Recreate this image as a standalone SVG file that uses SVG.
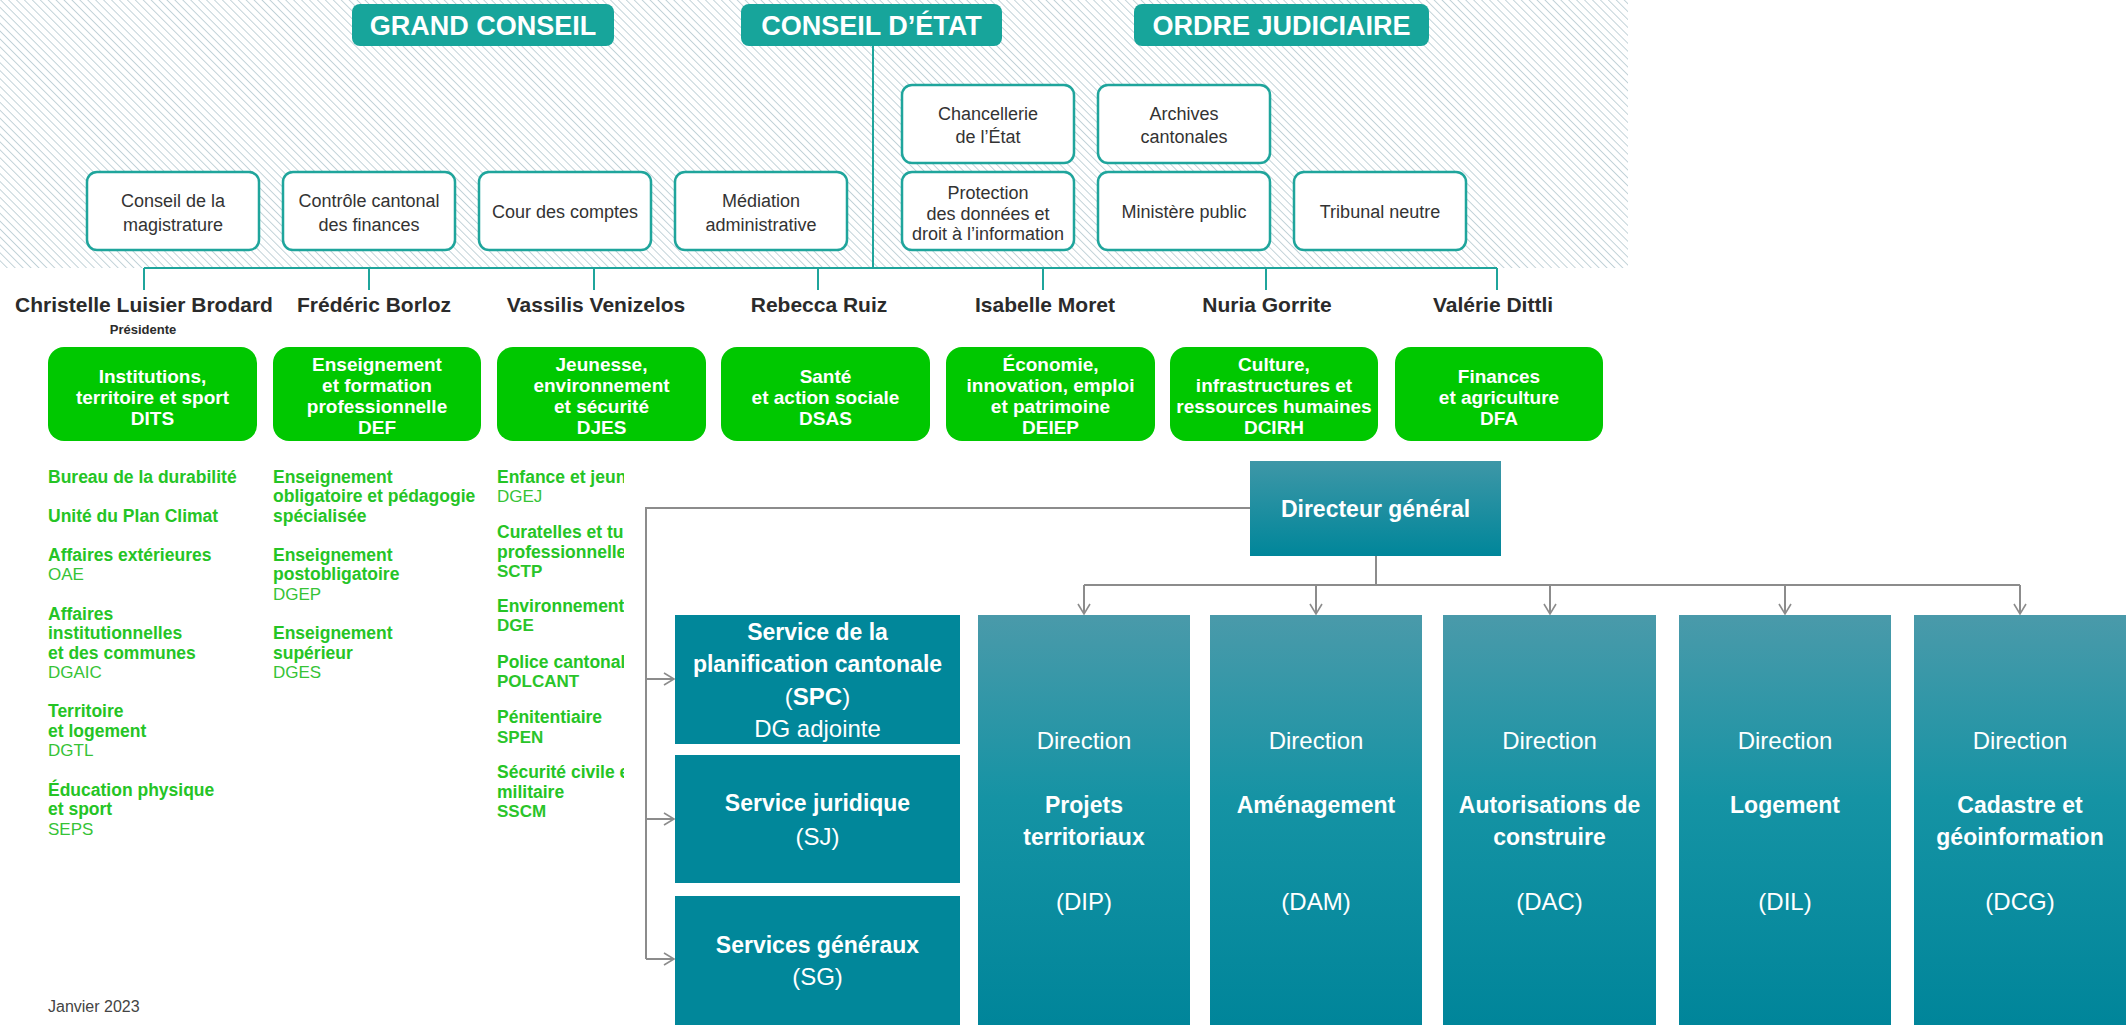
<svg xmlns="http://www.w3.org/2000/svg" width="2126" height="1025" viewBox="0 0 2126 1025">
<defs>
<style>
text{font-family:"Liberation Sans",Arial,sans-serif}
.hdr{fill:#17a59b}
.hdrt{font-size:27px;font-weight:bold;fill:#fff;text-anchor:middle}
.sb{fill:#fff;stroke:#1fa59c;stroke-width:2.5}
.sbt{font-size:18px;fill:#333;text-anchor:middle}
.name{font-size:21px;font-weight:bold;fill:#2b2b2b;text-anchor:middle}
.pres{font-size:13px;font-weight:bold;fill:#2b2b2b;text-anchor:middle}
.gb{fill:#00c800}
.gbt{font-size:19px;font-weight:bold;fill:#fff;text-anchor:middle}
.li{font-size:17.5px;font-weight:bold;fill:#25c425}
.ab{font-size:17px;fill:#36c336}
.abb{font-size:17px;font-weight:bold;fill:#2ac42a}
.teal{stroke:#1fa59c;stroke-width:2;fill:none}
.conn{stroke:#8c8c8c;stroke-width:2;fill:none}
.arr{stroke:#8c8c8c;stroke-width:2;fill:none;marker-end:url(#chev)}
.solid{fill:#01879a}
.dir{fill:url(#gDir)}
.bt{font-size:23px;font-weight:bold;fill:#fff;text-anchor:middle}
.rt{font-size:24px;fill:#fff;text-anchor:middle}
.foot{font-size:16px;fill:#444}
</style>
<pattern id="hatch" width="5.6" height="5.6" patternUnits="userSpaceOnUse" patternTransform="rotate(-45)">
<line x1="0" y1="0" x2="0" y2="5.6" stroke="#b6c9d1" stroke-width="1.6"/>
</pattern>
<linearGradient id="gDir" x1="0" y1="0" x2="0" y2="1">
<stop offset="0" stop-color="#4a9aaa"/><stop offset="0.45" stop-color="#1593a4"/><stop offset="1" stop-color="#00859a"/>
</linearGradient>
<linearGradient id="gDG" x1="0" y1="0" x2="0" y2="1">
<stop offset="0" stop-color="#3e97a7"/><stop offset="1" stop-color="#00869a"/>
</linearGradient>
<marker id="chev" markerUnits="userSpaceOnUse" markerWidth="14" markerHeight="16" refX="11" refY="7" orient="auto">
<path d="M1,1 L11,7 L1,13" fill="none" stroke="#8c8c8c" stroke-width="1.6"/>
</marker>
<clipPath id="c3"><rect x="0" y="450" width="624" height="400"/></clipPath>
</defs>

<rect width="2126" height="1025" fill="#fff"/>
<rect id="hatch-area" x="0" y="0" width="1628" height="268" fill="url(#hatch)"/>

<g id="connectors">
<path class="teal" d="M873,46 V268"/>
<path class="teal" d="M144,268 H1497"/>
<path class="teal" d="M144,268 V290 M369,268 V290 M594,268 V290 M818,268 V290 M1043,268 V290 M1266,268 V290 M1497,268 V290"/>
<path class="conn" d="M1250,508 H646 V959"/>
<path class="arr" d="M646,679 H674"/>
<path class="arr" d="M646,819 H674"/>
<path class="arr" d="M646,959 H674"/>
<path class="conn" d="M1376,556 V585 M1084,585 H2020"/>
<path class="arr" d="M1084,585 V614"/>
<path class="arr" d="M1316,585 V614"/>
<path class="arr" d="M1550,585 V614"/>
<path class="arr" d="M1785,585 V614"/>
<path class="arr" d="M2020,585 V614"/>
</g>

<g id="grand-conseil"><rect class="hdr" x="352" y="4" width="262" height="42" rx="8"/><text class="hdrt" x="483" y="35">GRAND CONSEIL</text></g>
<g id="conseil-etat"><rect class="hdr" x="741" y="4" width="261" height="42" rx="8"/><text class="hdrt" x="871.5" y="35">CONSEIL D’ÉTAT</text></g>
<g id="ordre-judiciaire"><rect class="hdr" x="1134" y="4" width="295" height="42" rx="8"/><text class="hdrt" x="1281.5" y="35">ORDRE JUDICIAIRE</text></g>

<g id="conseil-magistrature"><rect class="sb" x="87" y="172" width="172" height="78" rx="10"/><text class="sbt" x="173" y="206.5">Conseil de la</text><text class="sbt" x="173" y="230.5">magistrature</text></g>
<g id="controle-cantonal"><rect class="sb" x="283" y="172" width="172" height="78" rx="10"/><text class="sbt" x="369" y="206.5">Contrôle cantonal</text><text class="sbt" x="369" y="230.5">des finances</text></g>
<g id="cour-comptes"><rect class="sb" x="479" y="172" width="172" height="78" rx="10"/><text class="sbt" x="565" y="218">Cour des comptes</text></g>
<g id="mediation"><rect class="sb" x="675" y="172" width="172" height="78" rx="10"/><text class="sbt" x="761" y="206.5">Médiation</text><text class="sbt" x="761" y="230.5">administrative</text></g>
<g id="chancellerie"><rect class="sb" x="902" y="85" width="172" height="78" rx="10"/><text class="sbt" x="988" y="119.5">Chancellerie</text><text class="sbt" x="988" y="143">de l’État</text></g>
<g id="archives"><rect class="sb" x="1098" y="85" width="172" height="78" rx="10"/><text class="sbt" x="1184" y="119.5">Archives</text><text class="sbt" x="1184" y="143">cantonales</text></g>
<g id="protection-donnees"><rect class="sb" x="902" y="172" width="172" height="78" rx="10"/><text class="sbt" x="988" y="198.5">Protection</text><text class="sbt" x="988" y="219.5">des données et</text><text class="sbt" x="988" y="240">droit à l’information</text></g>
<g id="ministere-public"><rect class="sb" x="1098" y="172" width="172" height="78" rx="10"/><text class="sbt" x="1184" y="218">Ministère public</text></g>
<g id="tribunal-neutre"><rect class="sb" x="1294" y="172" width="172" height="78" rx="10"/><text class="sbt" x="1380" y="218">Tribunal neutre</text></g>

<g id="name-luisier"><text class="name" x="144" y="312">Christelle Luisier Brodard</text><text class="pres" x="143" y="334">Présidente</text></g>
<g id="name-borloz"><text class="name" x="374" y="312">Frédéric Borloz</text></g>
<g id="name-venizelos"><text class="name" x="596" y="312">Vassilis Venizelos</text></g>
<g id="name-ruiz"><text class="name" x="819" y="312">Rebecca Ruiz</text></g>
<g id="name-moret"><text class="name" x="1045" y="312">Isabelle Moret</text></g>
<g id="name-gorrite"><text class="name" x="1267" y="312">Nuria Gorrite</text></g>
<g id="name-dittli"><text class="name" x="1493" y="312">Valérie Dittli</text></g>

<g id="dits"><rect class="gb" x="48" y="347" width="209" height="94" rx="16"/><text class="gbt" x="152.5" y="383">Institutions,</text><text class="gbt" x="152.5" y="404">territoire et sport</text><text class="gbt" x="152.5" y="424.5">DITS</text></g>
<g id="def"><rect class="gb" x="273" y="347" width="208" height="94" rx="16"/><text class="gbt" x="377" y="371">Enseignement</text><text class="gbt" x="377" y="392">et formation</text><text class="gbt" x="377" y="413">professionnelle</text><text class="gbt" x="377" y="433.5">DEF</text></g>
<g id="djes"><rect class="gb" x="497" y="347" width="209" height="94" rx="16"/><text class="gbt" x="601.5" y="371">Jeunesse,</text><text class="gbt" x="601.5" y="392">environnement</text><text class="gbt" x="601.5" y="413">et sécurité</text><text class="gbt" x="601.5" y="433.5">DJES</text></g>
<g id="dsas"><rect class="gb" x="721" y="347" width="209" height="94" rx="16"/><text class="gbt" x="825.5" y="383">Santé</text><text class="gbt" x="825.5" y="404">et action sociale</text><text class="gbt" x="825.5" y="424.5">DSAS</text></g>
<g id="deiep"><rect class="gb" x="946" y="347" width="209" height="94" rx="16"/><text class="gbt" x="1050.5" y="371">Économie,</text><text class="gbt" x="1050.5" y="392">innovation, emploi</text><text class="gbt" x="1050.5" y="413">et patrimoine</text><text class="gbt" x="1050.5" y="433.5">DEIEP</text></g>
<g id="dcirh"><rect class="gb" x="1170" y="347" width="208" height="94" rx="16"/><text class="gbt" x="1274" y="371">Culture,</text><text class="gbt" x="1274" y="392">infrastructures et</text><text class="gbt" x="1274" y="413">ressources humaines</text><text class="gbt" x="1274" y="433.5">DCIRH</text></g>
<g id="dfa"><rect class="gb" x="1395" y="347" width="208" height="94" rx="16"/><text class="gbt" x="1499" y="383">Finances</text><text class="gbt" x="1499" y="404">et agriculture</text><text class="gbt" x="1499" y="424.5">DFA</text></g>

<g id="list-dits">
<text class="li" x="48" y="482.5">Bureau de la durabilité</text>
<text class="li" x="48" y="521.5">Unité du Plan Climat</text>
<text class="li" x="48" y="560.5">Affaires extérieures</text><text class="ab" x="48" y="580">OAE</text>
<text class="li" x="48" y="619.5">Affaires</text><text class="li" x="48" y="639">institutionnelles</text><text class="li" x="48" y="658.5">et des communes</text><text class="ab" x="48" y="678">DGAIC</text>
<text class="li" x="48" y="717">Territoire</text><text class="li" x="48" y="736.5">et logement</text><text class="ab" x="48" y="756">DGTL</text>
<text class="li" x="48" y="795.5">Éducation physique</text><text class="li" x="48" y="815">et sport</text><text class="ab" x="48" y="834.5">SEPS</text>
</g>
<g id="list-def">
<text class="li" x="273" y="482.5">Enseignement</text><text class="li" x="273" y="502">obligatoire et pédagogie</text><text class="li" x="273" y="521.5">spécialisée</text>
<text class="li" x="273" y="560.5">Enseignement</text><text class="li" x="273" y="580">postobligatoire</text><text class="ab" x="273" y="599.5">DGEP</text>
<text class="li" x="273" y="639">Enseignement</text><text class="li" x="273" y="658.5">supérieur</text><text class="ab" x="273" y="678">DGES</text>
</g>
<g id="list-djes" clip-path="url(#c3)">
<text class="li" x="497" y="482.5">Enfance et jeun</text><text class="ab" x="497" y="502">DGEJ</text>
<text class="li" x="497" y="538">Curatelles et tu</text><text class="li" x="497" y="557.5">professionnelle</text><text class="abb" x="497" y="577">SCTP</text>
<text class="li" x="497" y="611.5">Environnement</text><text class="abb" x="497" y="631">DGE</text>
<text class="li" x="497" y="668">Police cantonal</text><text class="abb" x="497" y="687">POLCANT</text>
<text class="li" x="497" y="723">Pénitentiaire</text><text class="abb" x="497" y="742.5">SPEN</text>
<text class="li" x="497" y="778">Sécurité civile e</text><text class="li" x="497" y="797.5">militaire</text><text class="abb" x="497" y="816.5">SSCM</text>
</g>

<g id="footer"><text class="foot" x="48" y="1012">Janvier 2023</text></g>

<g id="directeur-general"><rect x="1250" y="461" width="251" height="95" fill="url(#gDG)"/><text class="bt" x="1375.5" y="517">Directeur général</text></g>

<g id="spc"><rect class="solid" x="675" y="615" width="285" height="129"/><text class="bt" x="817.5" y="640">Service de la</text><text class="bt" x="817.5" y="672">planification cantonale</text><text class="rt" x="817.5" y="705">(<tspan font-weight="bold">SPC</tspan>)</text><text class="rt" x="817.5" y="736.5">DG adjointe</text></g>
<g id="sj"><rect class="solid" x="675" y="755" width="285" height="128"/><text class="bt" x="817.5" y="811">Service juridique</text><text class="rt" x="817.5" y="845">(SJ)</text></g>
<g id="sg"><rect class="solid" x="675" y="896" width="285" height="129"/><text class="bt" x="817.5" y="953">Services généraux</text><text class="rt" x="817.5" y="985">(SG)</text></g>

<g id="dip"><rect class="dir" x="978" y="615" width="212" height="410"/><text class="rt" x="1084" y="748.5">Direction</text><text class="bt" x="1084" y="813">Projets</text><text class="bt" x="1084" y="845">territoriaux</text><text class="rt" x="1084" y="909.5">(DIP)</text></g>
<g id="dam"><rect class="dir" x="1210" y="615" width="212" height="410"/><text class="rt" x="1316" y="748.5">Direction</text><text class="bt" x="1316" y="813">Aménagement</text><text class="rt" x="1316" y="909.5">(DAM)</text></g>
<g id="dac"><rect class="dir" x="1443" y="615" width="213" height="410"/><text class="rt" x="1549.5" y="748.5">Direction</text><text class="bt" x="1549.5" y="813">Autorisations de</text><text class="bt" x="1549.5" y="845">construire</text><text class="rt" x="1549.5" y="909.5">(DAC)</text></g>
<g id="dil"><rect class="dir" x="1679" y="615" width="212" height="410"/><text class="rt" x="1785" y="748.5">Direction</text><text class="bt" x="1785" y="813">Logement</text><text class="rt" x="1785" y="909.5">(DIL)</text></g>
<g id="dcg"><rect class="dir" x="1914" y="615" width="212" height="410"/><text class="rt" x="2020" y="748.5">Direction</text><text class="bt" x="2020" y="813">Cadastre et</text><text class="bt" x="2020" y="845">géoinformation</text><text class="rt" x="2020" y="909.5">(DCG)</text></g>
</svg>
